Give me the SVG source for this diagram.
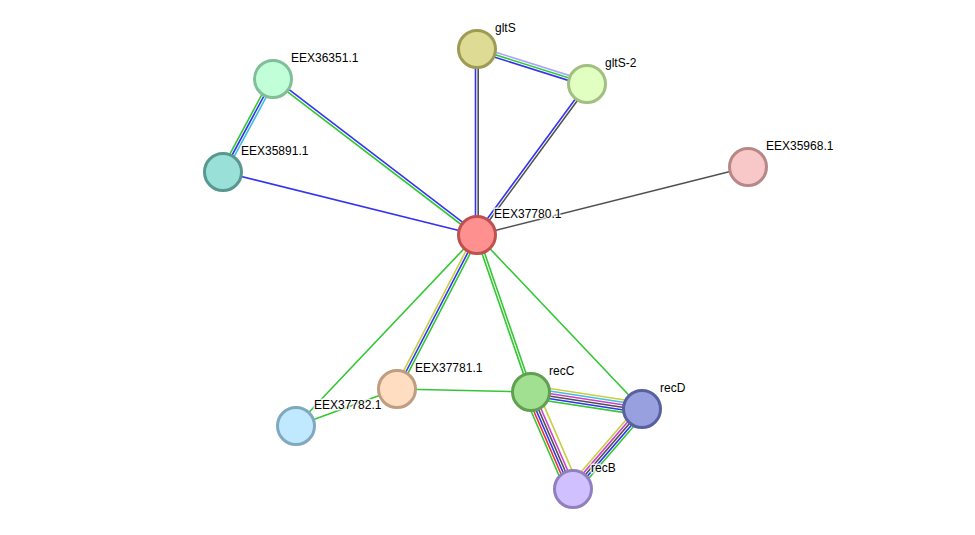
<svg xmlns="http://www.w3.org/2000/svg" width="975" height="535" viewBox="0 0 975 535">
<style>
line{stroke-width:1.6;fill:none}
.g{stroke:#33c833}.b{stroke:#3333f0}.k{stroke:#505050}.y{stroke:#c8d040}.c{stroke:#40c0e0}.m{stroke:#d040d0}.r{stroke:#f03030}.l{stroke:#a8a8ff}
circle{stroke-width:3}
text{font-family:"Liberation Sans",Arial,sans-serif;font-size:12px;fill:#000;stroke:#fff;stroke-width:3px;stroke-opacity:0.8;paint-order:stroke;stroke-linejoin:round}
</style>
<rect width="975" height="535" fill="#fff"/>
<g id="edges">
  <g transform="translate(477,49) rotate(17.5)">
    <line class="l" x2="116.4" y1="-2.5" y2="-2.5"/>
    <line class="g" x2="116.4"/>
    <line class="b" x2="116.4" y1="2.5" y2="2.5"/>
  </g>
  <line class="b" x1="475.5" y1="235" x2="475.5" y2="49"/>
  <line class="k" x1="478.2" y1="235" x2="478.2" y2="49"/>
  <g transform="translate(477,235) rotate(-53.7)">
    <line class="b" x2="187.4" y1="-1.3" y2="-1.3"/>
    <line class="k" x2="187.4" y1="1.3" y2="1.3"/>
  </g>
  <g transform="translate(223,172) rotate(-61.7)">
    <line class="g" x2="105.6" y1="-2.5" y2="-2.5"/>
    <line class="b" x2="105.6"/>
    <line class="c" x2="105.6" y1="2.5" y2="2.5"/>
  </g>
  <g transform="translate(273,79) rotate(37.4)">
    <line class="b" x2="256.8" y1="-1.3" y2="-1.3"/>
    <line class="g" x2="256.8" y1="1.3" y2="1.3"/>
  </g>
  <line class="b" x1="223" y1="172" x2="477" y2="235"/>
  <line class="k" x1="748" y1="167" x2="477" y2="235"/>
  <g transform="translate(397,389) rotate(-62.55)">
    <line class="y" x2="173.5" y1="-2.5" y2="-2.5"/>
    <line class="b" x2="173.5"/>
    <line class="g" x2="173.5" y1="2.5" y2="2.5"/>
  </g>
  <line class="g" x1="477" y1="235" x2="296" y2="426"/>
  <line class="g" x1="397" y1="389" x2="296" y2="426"/>
  <line class="g" x1="397" y1="389" x2="531" y2="392"/>
  <g transform="translate(477,235) rotate(71.0)">
    <line class="g" x2="166" y1="-1.3" y2="-1.3"/>
    <line class="g" x2="166" y1="1.3" y2="1.3"/>
  </g>
  <line class="g" x1="477" y1="235" x2="642" y2="409"/>
  <g transform="translate(531,392) rotate(8.7)">
    <line class="y" x2="112.3" y1="-6.25" y2="-6.25"/>
    <line class="c" x2="112.3" y1="-3.75" y2="-3.75"/>
    <line class="m" x2="112.3" y1="-1.25" y2="-1.25"/>
    <line class="k" x2="112.3" y1="1.25" y2="1.25"/>
    <line class="b" x2="112.3" y1="3.75" y2="3.75"/>
    <line class="g" x2="112.3" y1="6.25" y2="6.25"/>
  </g>
  <g transform="translate(531,392) rotate(66.6)">
    <line class="y" x2="105.7" y1="-6.5" y2="-6.5"/>
    <line class="m" x2="105.7" y1="-2.5" y2="-2.5"/>
    <line class="k" x2="105.7"/>
    <line class="b" x2="105.7" y1="2.5" y2="2.5"/>
    <line class="r" x2="105.7" y1="5" y2="5"/>
    <line class="g" x2="105.7" y1="7.5" y2="7.5"/>
  </g>
  <g transform="translate(573,489) rotate(-49.2)">
    <line class="y" x2="105.6" y1="-5" y2="-5"/>
    <line class="m" x2="105.6" y1="-2.5" y2="-2.5"/>
    <line class="k" x2="105.6"/>
    <line class="b" x2="105.6" y1="2.5" y2="2.5"/>
    <line class="g" x2="105.6" y1="5" y2="5"/>
  </g>
</g>
<g id="n-gltS"><circle cx="477" cy="49" r="18.5" fill="#dedb94" stroke="#9e9b54"/></g>
<g id="n-gltS-2"><circle cx="587" cy="84" r="18.5" fill="#e0ffc0" stroke="#a0bf80"/></g>
<g id="n-EEX36351"><circle cx="273" cy="79" r="18.5" fill="#c0ffd8" stroke="#80bf98"/></g>
<g id="n-EEX35891"><circle cx="223" cy="172" r="18.5" fill="#98e0d8" stroke="#589890"/></g>
<g id="n-EEX35968"><circle cx="748" cy="167" r="18.5" fill="#f8c8c8" stroke="#b88888"/></g>
<g id="n-EEX37780"><circle cx="477" cy="235" r="18.5" fill="#ff9090" stroke="#c05050"/></g>
<g id="n-EEX37781"><circle cx="397" cy="389" r="18.5" fill="#ffddc0" stroke="#bf9d80"/></g>
<g id="n-EEX37782"><circle cx="296" cy="426" r="18.5" fill="#c0e8ff" stroke="#80a8bf"/></g>
<g id="n-recC"><circle cx="531" cy="392" r="18.5" fill="#a0e090" stroke="#60a050"/></g>
<g id="n-recD"><circle cx="642" cy="409" r="18.5" fill="#98a0e0" stroke="#5860a0"/></g>
<g id="n-recB"><circle cx="573" cy="489" r="18.5" fill="#d0c0ff" stroke="#9080bf"/></g>
<g id="labels">
  <text x="495" y="32">gltS</text>
  <text x="605" y="67">gltS-2</text>
  <text x="291" y="62">EEX36351.1</text>
  <text x="241" y="155">EEX35891.1</text>
  <text x="766" y="150">EEX35968.1</text>
  <text x="494" y="218">EEX37780.1</text>
  <text x="415" y="372">EEX37781.1</text>
  <text x="314" y="409">EEX37782.1</text>
  <text x="549" y="375">recC</text>
  <text x="660" y="392">recD</text>
  <text x="591" y="472">recB</text>
</g>
</svg>
